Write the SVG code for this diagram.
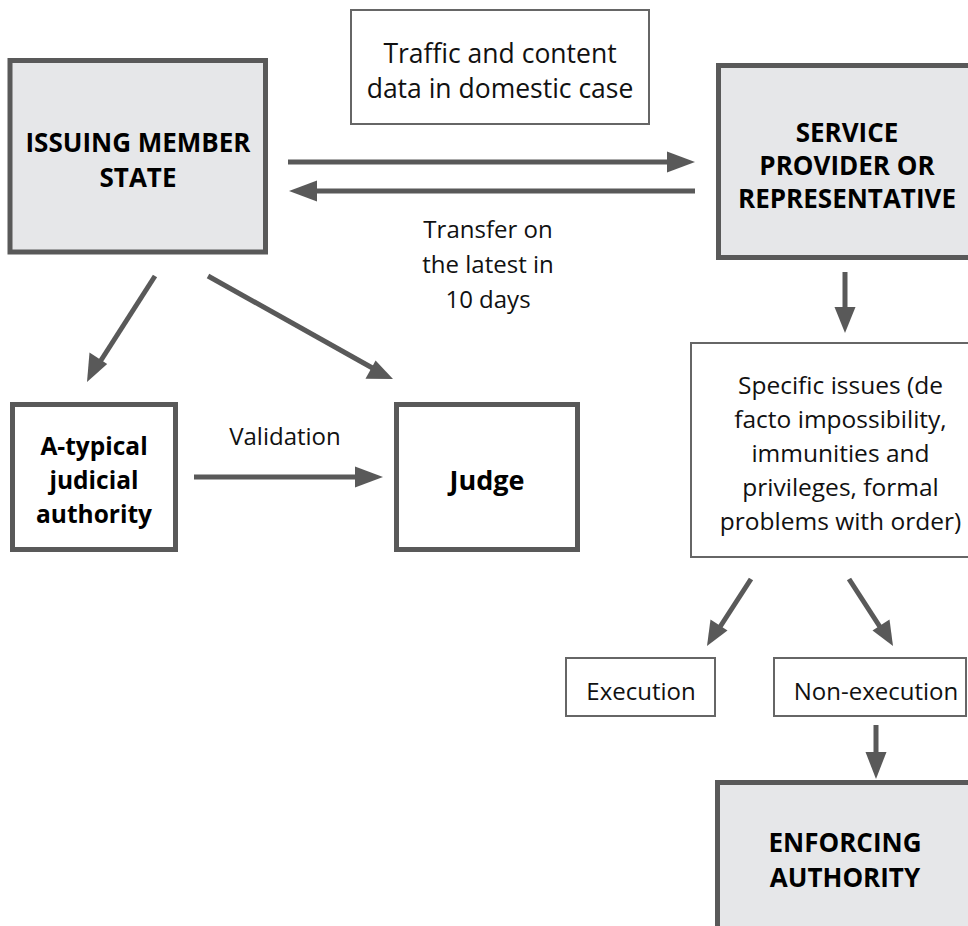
<svg xmlns="http://www.w3.org/2000/svg" width="968" height="926" viewBox="0 0 968 926">
  <style>
    .main { fill: #e6e7e9; stroke: #595959; stroke-width: 5; }
    .plainthick { fill: #ffffff; stroke: #595959; stroke-width: 5; }
    .plainthin { fill: #ffffff; stroke: #666666; stroke-width: 2; }
    .bold { font-family: "Open Sans", "Liberation Sans", sans-serif; font-weight: 700; font-size: 26px; fill: #000; text-anchor: middle; }
    .reg { font-family: "Open Sans", "Liberation Sans", sans-serif; font-weight: 400; font-size: 24px; fill: #111; text-anchor: middle; }
    .big { font-size: 26.5px; }
    .conn line { stroke: #595959; stroke-width: 5; }
    .conn polygon { fill: #595959; }
  </style>
  <rect width="968" height="926" fill="#ffffff"/>

  <g id="issuing-member-state">
    <rect class="main" x="10" y="60.5" width="255.5" height="191.5"/>
    <text class="bold" x="138" y="152">ISSUING MEMBER</text>
    <text class="bold" x="138" y="187">STATE</text>
  </g>

  <g id="traffic-data">
    <rect class="plainthin" x="351" y="10" width="298" height="114"/>
    <text class="reg big" x="500" y="63">Traffic and content</text>
    <text class="reg big" x="500" y="98">data in domestic case</text>
  </g>

  <g id="service-provider">
    <rect class="main" x="718.5" y="65.5" width="262" height="192"/>
    <text class="bold" x="847" y="142">SERVICE</text>
    <text class="bold" x="847" y="175">PROVIDER OR</text>
    <text class="bold" x="847" y="208">REPRESENTATIVE</text>
  </g>

  <g id="transfer-label">
    <text class="reg" x="488" y="238">Transfer on</text>
    <text class="reg" x="488" y="273">the latest in</text>
    <text class="reg" x="488" y="308">10 days</text>
  </g>

  <g id="atypical-authority">
    <rect class="plainthick" x="12.5" y="404.5" width="163" height="145"/>
    <text class="bold" x="94" y="455" style="font-size:24.5px">A-typical</text>
    <text class="bold" x="94" y="489" style="font-size:24.5px">judicial</text>
    <text class="bold" x="94" y="523" style="font-size:24.5px">authority</text>
  </g>

  <g id="validation-label">
    <text class="reg" x="285" y="445">Validation</text>
  </g>

  <g id="judge">
    <rect class="plainthick" x="396.5" y="404.5" width="181" height="145"/>
    <text class="bold" x="487" y="490" style="font-size:27px">Judge</text>
  </g>

  <g id="specific-issues">
    <rect class="plainthin" x="691" y="343" width="290" height="214"/>
    <text class="reg" x="840.5" y="394" style="font-size:24.5px">Specific issues (de</text>
    <text class="reg" x="840.5" y="428" style="font-size:24.5px">facto impossibility,</text>
    <text class="reg" x="840.5" y="462" style="font-size:24.5px">immunities and</text>
    <text class="reg" x="840.5" y="496" style="font-size:24.5px">privileges, formal</text>
    <text class="reg" x="840.5" y="530" style="font-size:24.5px">problems with order)</text>
  </g>

  <g id="execution">
    <rect class="plainthin" x="566" y="658" width="149" height="58"/>
    <text class="reg" x="641" y="700">Execution</text>
  </g>

  <g id="non-execution">
    <rect class="plainthin" x="774" y="658" width="192" height="58"/>
    <text class="reg" x="876" y="700">Non-execution</text>
  </g>

  <g id="enforcing-authority">
    <rect class="main" x="717.5" y="782.5" width="262" height="160"/>
    <text class="bold" x="845" y="852">ENFORCING</text>
    <text class="bold" x="845" y="887">AUTHORITY</text>
  </g>

  <g id="connectors" class="conn">
    <!-- issuing state to service provider -->
    <line x1="288" y1="162" x2="668" y2="162"/>
    <polygon points="695,162 667,151.5 667,172.5"/>
    <!-- service provider back to issuing state -->
    <line x1="695" y1="191" x2="316" y2="191"/>
    <polygon points="289,191 317,180.5 317,201.5"/>
    <!-- issuing state to a-typical authority -->
    <line x1="155" y1="276" x2="98" y2="365"/>
    <polygon points="87,382 89.5,352.5 107.2,363.9"/>
    <!-- issuing state to judge -->
    <line x1="208" y1="276" x2="376" y2="370"/>
    <polygon points="393,379 365.5,378.7 375.6,360.4"/>
    <!-- validation -->
    <line x1="194" y1="477" x2="356" y2="477"/>
    <polygon points="383,477 355,466.5 355,487.5"/>
    <!-- service provider to specific issues -->
    <line x1="845" y1="272" x2="845" y2="308"/>
    <polygon points="845,333 834.5,307 855.5,307"/>
    <!-- specific issues to execution -->
    <line x1="751" y1="579" x2="718" y2="630"/>
    <polygon points="707,646 710.5,619.5 727.5,630.5"/>
    <!-- specific issues to non-execution -->
    <line x1="849" y1="579" x2="882" y2="630"/>
    <polygon points="893,646 872.5,630.5 889.5,619.5"/>
    <!-- non-execution to enforcing authority -->
    <line x1="876" y1="725" x2="876" y2="753"/>
    <polygon points="876,779 865.5,752 886.5,752"/>
  </g>
</svg>
